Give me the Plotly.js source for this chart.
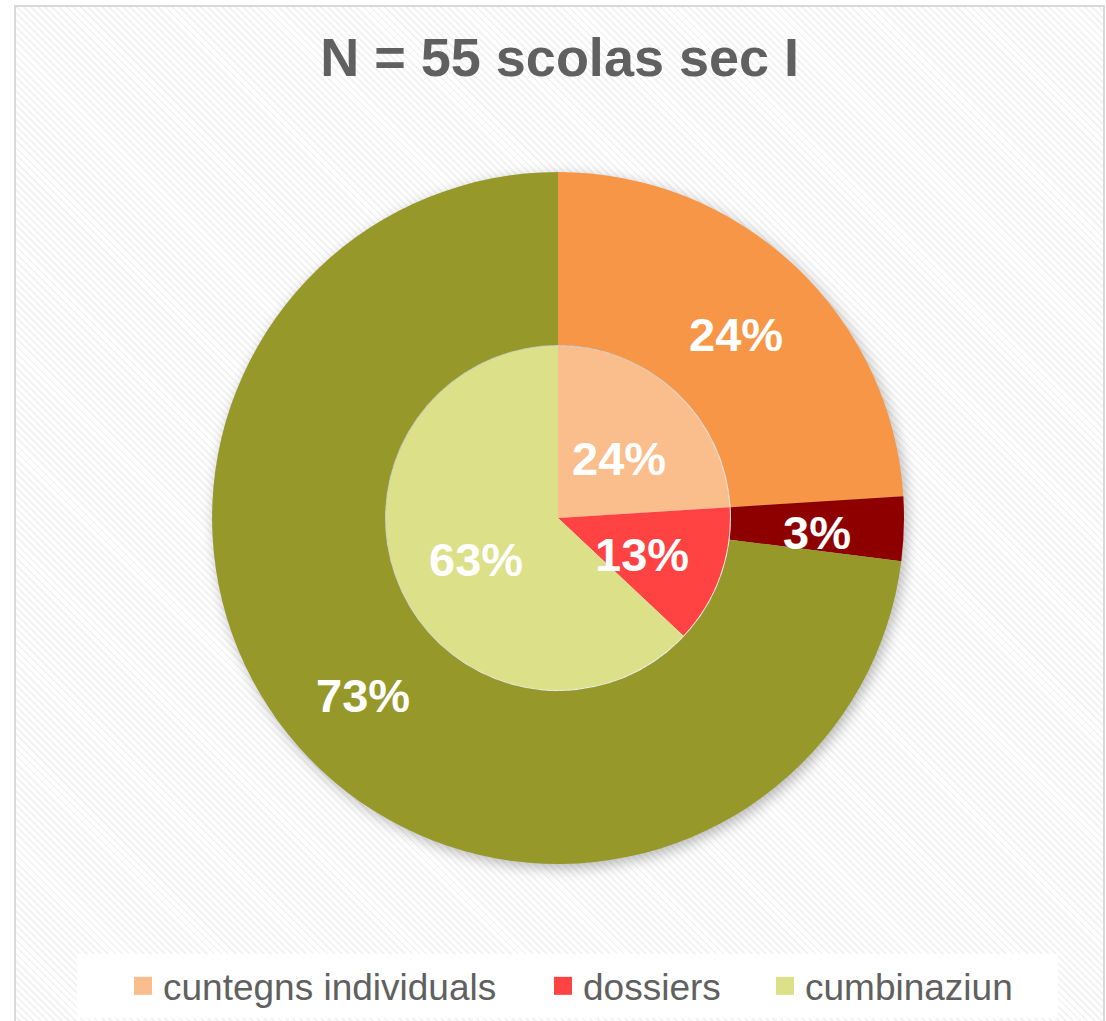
<!DOCTYPE html>
<html>
<head>
<meta charset="utf-8">
<script src="https://cdn.plot.ly/plotly-3.0.1.min.js"></script>
<style>
  html, body { margin: 0; padding: 0; background: #ffffff; }
  #frame {
    position: absolute; left: 14px; top: 5px; width: 1087px; height: 1030px;
    border: 2px solid #d9d9d9;
    background: repeating-linear-gradient(45deg, #ffffff 0px, #ffffff 3px, #f3f3f3 3px, #f3f3f3 5px);
  }
  #chart { position: absolute; left: 0; top: 0; width: 1106px; height: 1021px; }
  .pielayer .trace:first-child { filter: drop-shadow(3px 4px 7px rgba(0,0,0,0.28)); }
</style>
</head>
<body>
<div id="frame"></div>
<div id="chart"></div>
<script>
const labels = ['cuntegns individuals', 'dossiers', 'cumbinaziun'];
const outerValues = [24, 3, 73];
const innerValues = [24, 13, 63];
const outerColors = ['#F79646', '#8E0000', '#96992A'];
const innerColors = ['#F9BE8C', '#FF4242', '#DCE089'];

const W = 1106, H = 1021;
const outerDomain = { x: [0.1917, 0.8174], y: [0.1538, 0.8315] };
const innerDomain = { x: [0.349, 0.660], y: [0.3242, 0.6611] };
const HOLE = 0.5;

const FONT = 'Liberation Sans, Arial, sans-serif';

// value labels placed along each slice's mid angle (clockwise from 12 o'clock)
function sliceLabels(values, domain, radiusFrac) {
  const total = values.reduce((a, b) => a + b, 0);
  const cx = (domain.x[0] + domain.x[1]) / 2;
  const cy = (domain.y[0] + domain.y[1]) / 2;
  const rPx = (domain.x[1] - domain.x[0]) * W / 2 * radiusFrac;
  let cum = 0;
  return values.map(v => {
    const mid = (cum + v / 2) / total * 2 * Math.PI;
    cum += v;
    return {
      xref: 'paper', yref: 'paper',
      x: cx + Math.sin(mid) * rPx / W,
      y: cy + Math.cos(mid) * rPx / H,
      xanchor: 'center', yanchor: 'middle',
      yshift: -6,
      text: '<b>' + v + '%</b>',
      showarrow: false,
      font: { family: FONT, size: 47, color: '#ffffff' },
    };
  });
}

const traces = [
  {
    type: 'pie',
    labels: labels.map(l => l + ' '),
    values: outerValues,
    hole: HOLE,
    sort: false,
    direction: 'clockwise',
    rotation: 0,
    marker: { colors: outerColors, line: { width: 0 } },
    textinfo: 'none',
    hoverinfo: 'label+value',
    showlegend: false,
    domain: outerDomain,
  },
  {
    type: 'pie',
    labels,
    values: innerValues,
    sort: false,
    direction: 'clockwise',
    rotation: 0,
    marker: { colors: innerColors, line: { width: 0 } },
    textinfo: 'none',
    hoverinfo: 'label+value',
    domain: innerDomain,
  },
];

const layout = {
  width: W,
  height: H,
  paper_bgcolor: 'rgba(0,0,0,0)',
  plot_bgcolor: 'rgba(0,0,0,0)',
  margin: { t: 0, r: 0, b: 0, l: 0 },
  font: { family: FONT, color: '#606060' },
  title: {
    text: '<b>N = 55 scolas sec I</b>',
    font: { size: 54, color: '#606060' },
    x: 0.506, xanchor: 'center',
    y: 0.944, yanchor: 'middle',
  },
  legend: {
    orientation: 'h',
    x: 123 / W, xanchor: 'left',
    y: 0.034, yanchor: 'middle',
    bgcolor: 'rgba(0,0,0,0)',
    font: { size: 37, color: '#606060' },
    traceorder: 'normal',
  },
  shapes: [
    // legend box
    {
      type: 'rect', xref: 'paper', yref: 'paper', layer: 'below',
      x0: 77 / W, x1: 1058 / W, y0: 3 / H, y1: 67 / H,
      fillcolor: 'rgba(255,255,255,0.92)', line: { width: 0 },
    },
  ],
  annotations: [
    ...sliceLabels(outerValues, outerDomain, (1 + HOLE) / 2),
    ...sliceLabels(innerValues, innerDomain, 0.52),
  ],
};

// legend entry offsets (px from first entry), wider spacing like the original
const legendOffsets = [0, 420, 642];

Plotly.newPlot('chart', traces, layout, { displayModeBar: false, responsive: false }).then(gd => {
  // bigger legend squares
  gd.querySelectorAll('.legendpoints path').forEach(p => p.setAttribute('d', 'M9,9H-9V-9H9Z'));
  // spread legend entries
  const items = gd.querySelectorAll('.legend .traces');
  items.forEach((el, i) => {
    const m = /translate\(\s*([-\d.]+)[ ,]+([-\d.]+)\s*\)/.exec(el.getAttribute('transform') || '');
    const y = m ? m[2] : 0;
    el.setAttribute('transform', `translate(${legendOffsets[i] || 0},${y})`);
  });
  gd.querySelectorAll('.legend .scrollbox').forEach(s => s.removeAttribute('clip-path'));
  gd.querySelectorAll('.legend').forEach(s => s.removeAttribute('clip-path'));
});
</script>
</body>
</html>
